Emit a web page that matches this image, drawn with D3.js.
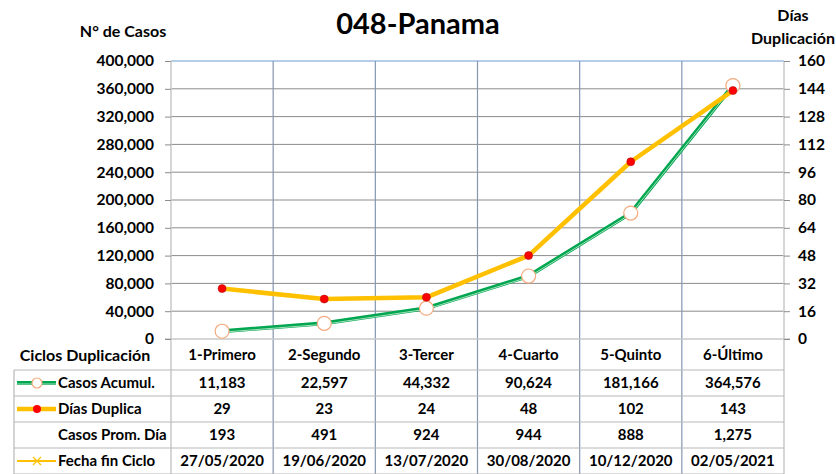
<!DOCTYPE html>
<html>
<head>
<meta charset="utf-8">
<script src="https://cdn.jsdelivr.net/npm/d3@7"></script>
<style>
  body { margin: 0; background: #fff; }
  text { font-family: Lato, "Open Sans", sans-serif; font-weight: bold; fill: #000; }
</style>
</head>
<body>
<svg id="chart" width="836" height="474"></svg>
<script>
const ciclos = ["1-Primero", "2-Segundo", "3-Tercer", "4-Cuarto", "5-Quinto", "6-Último"];
const casosAcumul = [11183, 22597, 44332, 90624, 181166, 364576];
const diasDuplica = [29, 23, 24, 48, 102, 143];
const casosPromDia = [193, 491, 924, 944, 888, 1275];
const fechaFin = ["27/05/2020", "19/06/2020", "13/07/2020", "30/08/2020", "10/12/2020", "02/05/2021"];
const leftTicks = [0, 40000, 80000, 120000, 160000, 200000, 240000, 280000, 320000, 360000, 400000];
const rightTicks = [0, 16, 32, 48, 64, 80, 96, 112, 128, 144, 160];

const svg = d3.select("#chart");
const plot = { left: 171, right: 784, top: 61, bottom: 339 };
const tableTop = 370, rowH = 26, tableLeft = 14;

const x = d3.scaleBand().domain(ciclos).range([plot.left, plot.right]);
const yL = d3.scaleLinear().domain([0, 400000]).range([plot.bottom, plot.top]);
const yR = d3.scaleLinear().domain([0, 160]).range([plot.bottom, plot.top]);
const fmt = d3.format(",");

// horizontal gridlines
svg.append("g").selectAll("line")
    .data(leftTicks.slice(1, -1))
    .enter()
    .append("line")
    .attr("x1", plot.left).attr("x2", plot.right)
    .attr("y1", d => yL(d)).attr("y2", d => yL(d))
    .attr("stroke", "#8c8c8c").attr("stroke-width", 1);

// category separators, running down through the table
svg.append("g").selectAll("line")
    .data(ciclos.slice(1))
    .enter()
    .append("line")
    .attr("x1", d => x(d)).attr("x2", d => x(d))
    .attr("y1", plot.top).attr("y2", tableTop + rowH * 4)
    .attr("stroke", "#8496b0").attr("stroke-width", 1.2);

// plot borders
svg.append("line").attr("x1", plot.left).attr("x2", plot.right).attr("y1", plot.top).attr("y2", plot.top)
    .attr("stroke", "#6f9bd0").attr("stroke-width", 1);
svg.append("line").attr("x1", plot.left).attr("x2", plot.left).attr("y1", plot.top).attr("y2", tableTop + rowH * 4)
    .attr("stroke", "#c8c8c8").attr("stroke-width", 1.5);
svg.append("line").attr("x1", plot.right).attr("x2", plot.right).attr("y1", plot.top).attr("y2", tableTop + rowH * 4)
    .attr("stroke", "#c8c8c8").attr("stroke-width", 1.5);
svg.append("line").attr("x1", plot.left - 6).attr("x2", plot.right + 6).attr("y1", plot.bottom).attr("y2", plot.bottom)
    .attr("stroke", "#c8c8c8").attr("stroke-width", 1.5);

// axes
const leftAxis = svg.append("g")
    .attr("transform", `translate(${plot.left},0)`)
    .call(d3.axisLeft(yL).tickValues(leftTicks).tickFormat(fmt).tickSize(6).tickPadding(11));
const rightAxis = svg.append("g")
    .attr("transform", `translate(${plot.right},0)`)
    .call(d3.axisRight(yR).tickValues(rightTicks).tickSize(6).tickPadding(8));
[leftAxis, rightAxis].forEach(g => {
    g.select(".domain").remove();
    g.selectAll(".tick line").attr("stroke", "#8c8c8c");
    g.selectAll(".tick text").attr("font-size", 15.5).attr("font-family", "Lato, sans-serif").attr("font-weight", "bold");
});

// titles
svg.append("text").attr("x", 418).attr("y", 34).attr("text-anchor", "middle").attr("font-size", 29).text("048-Panama");
svg.append("text").attr("x", 123).attr("y", 37).attr("text-anchor", "middle").attr("font-size", 16).text("N° de Casos");
svg.append("text").attr("x", 793).attr("y", 21).attr("text-anchor", "middle").attr("font-size", 16).text("Días");
svg.append("text").attr("x", 793).attr("y", 44).attr("text-anchor", "middle").attr("font-size", 16).text("Duplicación");

const cx = d => x(d) + x.bandwidth() / 2;

// Casos Acumul. line (double green)
const lineCasos = d3.line().x((d, i) => cx(ciclos[i])).y(d => yL(d));
svg.append("path").datum(casosAcumul).attr("d", lineCasos)
    .attr("fill", "none").attr("stroke", "#00a650").attr("stroke-width", 4).attr("stroke-linejoin", "round");
svg.append("path").datum(casosAcumul).attr("d", lineCasos).attr("transform", "translate(0,1)")
    .attr("fill", "none").attr("stroke", "#b8e6c8").attr("stroke-width", 0.9);

// Días Duplica line
const lineDias = d3.line().x((d, i) => cx(ciclos[i])).y(d => yR(d));
svg.append("path").datum(diasDuplica).attr("d", lineDias)
    .attr("fill", "none").attr("stroke", "#ffc000").attr("stroke-width", 4.5).attr("stroke-linejoin", "round");

svg.append("g").selectAll("circle")
    .data(casosAcumul)
    .enter()
    .append("circle")
    .attr("cx", (d, i) => cx(ciclos[i])).attr("cy", d => yL(d)).attr("r", 7)
    .attr("fill", "#fff").attr("stroke", "#f4a97c").attr("stroke-width", 1.2);

svg.append("g").selectAll("circle")
    .data(diasDuplica)
    .enter()
    .append("circle")
    .attr("cx", (d, i) => cx(ciclos[i])).attr("cy", d => yR(d)).attr("r", 4)
    .attr("fill", "#ff0000").attr("stroke", "#b01010").attr("stroke-width", 0.6);

// data table
svg.append("text").attr("x", 85).attr("y", 361).attr("text-anchor", "middle").attr("font-size", 16).text("Ciclos Duplicación");
svg.append("g").selectAll("text")
    .data(ciclos)
    .enter()
    .append("text")
    .attr("x", d => cx(d)).attr("y", 360).attr("text-anchor", "middle").attr("font-size", 15)
    .text(d => d);

for (let r = 0; r <= 4; r++) {
    svg.append("line").attr("x1", tableLeft).attr("x2", plot.right)
        .attr("y1", tableTop + r * rowH).attr("y2", tableTop + r * rowH)
        .attr("stroke", "#b8b8b8").attr("stroke-width", 1.2);
}
svg.append("line").attr("x1", tableLeft).attr("x2", tableLeft).attr("y1", tableTop).attr("y2", tableTop + rowH * 4)
    .attr("stroke", "#b8b8b8").attr("stroke-width", 1.2);

const rows = [
    { label: "Casos Acumul.", values: casosAcumul.map(fmt) },
    { label: "Días Duplica", values: diasDuplica.map(String) },
    { label: "Casos Prom. Día", values: casosPromDia.map(fmt) },
    { label: "Fecha fin Ciclo", values: fechaFin }
];
rows.forEach((row, r) => {
    const ty = tableTop + r * rowH + rowH / 2 + 5;
    svg.append("text").attr("x", 58).attr("y", ty).attr("font-size", 15).text(row.label);
    svg.append("g").selectAll("text")
        .data(row.values)
        .enter()
        .append("text")
        .attr("x", (d, i) => cx(ciclos[i])).attr("y", ty).attr("text-anchor", "middle").attr("font-size", 15)
        .text(d => d);
});

// legend keys
const keyY = r => tableTop + r * rowH + rowH / 2;
const k = svg.append("g");
k.append("line").attr("x1", 17).attr("x2", 56).attr("y1", keyY(0)).attr("y2", keyY(0)).attr("stroke", "#00a650").attr("stroke-width", 4);
k.append("line").attr("x1", 17).attr("x2", 56).attr("y1", keyY(0) + 1).attr("y2", keyY(0) + 1).attr("stroke", "#b8e6c8").attr("stroke-width", 0.9);
k.append("circle").attr("cx", 37).attr("cy", keyY(0)).attr("r", 5).attr("fill", "#fff").attr("stroke", "#f4a97c").attr("stroke-width", 1.2);
k.append("line").attr("x1", 17).attr("x2", 56).attr("y1", keyY(1)).attr("y2", keyY(1)).attr("stroke", "#ffc000").attr("stroke-width", 4.5);
k.append("circle").attr("cx", 37).attr("cy", keyY(1)).attr("r", 4).attr("fill", "#ff0000");
k.append("line").attr("x1", 17).attr("x2", 56).attr("y1", keyY(3)).attr("y2", keyY(3)).attr("stroke", "#ffc000").attr("stroke-width", 2);
k.append("path").attr("d", `M33,${keyY(3) - 4}L41,${keyY(3) + 4}M33,${keyY(3) + 4}L41,${keyY(3) - 4}`)
    .attr("stroke", "#ffc000").attr("stroke-width", 1.2);
</script>
</body>
</html>
